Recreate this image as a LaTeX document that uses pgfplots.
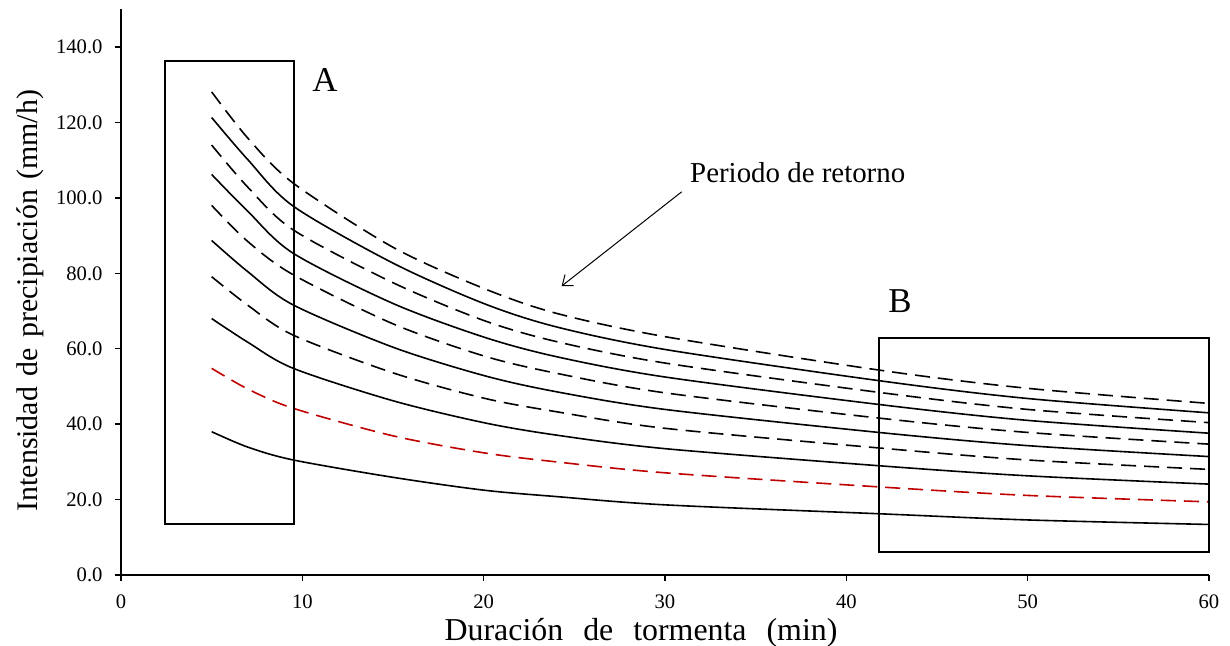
\documentclass[border=0pt]{standalone}
\usepackage{pgfplots}
\pgfplotsset{compat=1.18}
\usepackage{pgfplotstable}
\usepackage{fontspec}
\setmainfont{Liberation Serif}
\usetikzlibrary{arrows.meta}
\definecolor{exred}{RGB}{192,0,0}
\pgfplotstableread{
x    c1    c2    c3    c4    c5    c6    c7    c8    c9    c10
5    128.1 121.3 114.0 106.2 98.0  88.7  79.1  68.0  54.8  38.0
7    115.8 110.1 102.8 96.4  88.4  80.4  71.5  61.7  49.3  33.9
9.5  103.9 97.8  91.5  85.3  79.6  71.6  63.6  54.8  44.2  30.5
15   86.9  82.7  77.5  72.0  66.6  60.4  53.6  46.2  36.9  25.9
20   76.0  72.0  67.5  63.1  58.1  52.9  46.9  40.4  32.4  22.5
24   69.4  65.8  61.9  57.9  53.5  48.6  43.3  37.1  30.0  20.8
30   63.2  59.8  56.2  52.5  48.3  43.9  38.9  33.5  27.1  18.6
42   54.2  51.4  48.3  45.1  41.5  37.7  33.6  28.9  23.3  16.2
50   49.5  46.8  43.9  41.0  37.8  34.3  30.5  26.3  21.1  14.6
60   45.5  43.0  40.4  37.6  34.7  31.4  28.0  24.1  19.4  13.4
}\idf
\begin{document}
\begin{tikzpicture}
\begin{axis}[
  scale only axis, width=1088bp, height=565.7bp,
  at={(0,0)}, anchor=south west,
  xmin=0, xmax=60, ymin=0, ymax=150,
  axis x line*=bottom, axis y line*=left,
  axis line style={-, line width=2bp, black},
  xtick={0,10,...,60}, ytick={0,20,...,140},
  tick align=outside, major tick length=6bp,
  tick style={line width=1.5bp, black},
  /pgf/number format/assume math mode=true,
  ticklabel style={font=\fontsize{20.7}{24}\selectfont},
  xticklabel style={yshift=-10bp},
  yticklabel style={xshift=-9bp, /pgf/number format/fixed, /pgf/number format/fixed zerofill, /pgf/number format/precision=1},
  xlabel={Duración\hspace{12bp} de\hspace{12bp} tormenta\hspace{12bp} (min)},
  xlabel style={font=\fontsize{32}{38}\selectfont, at={(axis description cs:0.478,-0.115)}, anchor=base},
  ylabel={Intensidad\hspace{3bp} de\hspace{3bp} precipiación\hspace{3bp} (mm/h)},
  ylabel style={font=\fontsize{30}{36}\selectfont, at={(axis description cs:-0.077,0.485)}, anchor=base},
  clip=false,
  every axis plot/.append style={smooth, no markers, line width=1.6bp},
]
\addplot[black, dash pattern=on 15bp off 8bp] table[x=x,y=c1] {\idf};
\addplot[black] table[x=x,y=c2] {\idf};
\addplot[black, dash pattern=on 15bp off 8bp] table[x=x,y=c3] {\idf};
\addplot[black] table[x=x,y=c4] {\idf};
\addplot[black, dash pattern=on 15bp off 8bp] table[x=x,y=c5] {\idf};
\addplot[black] table[x=x,y=c6] {\idf};
\addplot[black, dash pattern=on 15bp off 8bp] table[x=x,y=c7] {\idf};
\addplot[black] table[x=x,y=c8] {\idf};
\addplot[exred, dash pattern=on 15bp off 8bp] table[x=x,y=c9] {\idf};
\addplot[black] table[x=x,y=c10] {\idf};
\draw[line width=2.5bp] (axis cs:2.43,13.5) rectangle (axis cs:9.54,136.3);
\draw[line width=2.5bp] (axis cs:41.8,6.1) rectangle (axis cs:60,62.8);
\node[anchor=base, inner sep=0, font=\fontsize{35}{40}\selectfont] at (axis cs:11.25,128.2) {A};
\node[anchor=base, inner sep=0, font=\fontsize{35}{40}\selectfont] at (axis cs:42.96,69.7) {B};
\node[anchor=base west, inner sep=0, font=\fontsize{29}{34}\selectfont] at (axis cs:31.38,103.95) {Periodo de retorno};
\draw[line width=1bp, -{Straight Barb[length=9bp, width=14bp]}] (axis cs:30.92,101.6) -- (axis cs:24.30,76.6);
\end{axis}
\pgfresetboundingbox
\path (-121bp,-71bp) rectangle (1109bp,575bp);
\end{tikzpicture}
\end{document}
